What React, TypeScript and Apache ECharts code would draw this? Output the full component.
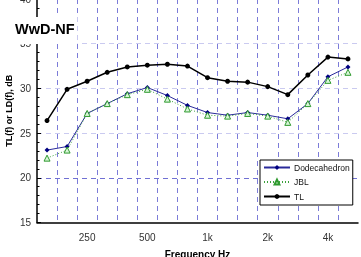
import React, { useEffect, useRef } from "react";
import * as echarts from "echarts";

const categories = ["160", "200", "250", "315", "400", "500", "630", "800", "1000", "1250", "1600", "2000", "2500", "3150", "4000", "5000"];
const labeledCategories = ["250", "500", "1000", "2000", "4000"];
const tickLabels = ["250", "500", "1k", "2k", "4k"];

const dodecahedron = [23.1, 23.5, 27.2, 28.3, 29.4, 30.1, 29.2, 28.1, 27.3, 27.0, 27.3, 27.0, 26.6, 28.3, 31.3, 32.4];
const jbl = [22.2, 23.1, 27.2, 28.3, 29.3, 29.9, 28.8, 27.7, 27.0, 26.9, 27.2, 26.9, 26.2, 28.3, 30.9, 31.8];
const tl = [26.4, 29.9, 30.8, 31.8, 32.4, 32.6, 32.7, 32.5, 31.2, 30.8, 30.7, 30.2, 29.3, 31.5, 33.5, 33.3];

const FONT = "'Liberation Sans', Arial, Helvetica, sans-serif";

export default function App() {
  const ref = useRef<HTMLDivElement>(null);
  useEffect(() => {
    if (!ref.current) return;
    const chart = echarts.init(ref.current, null, { renderer: "svg" });
    chart.setOption({
      animation: false,
      textStyle: { fontFamily: FONT },
      title: {
        text: "WwD-NF",
        left: 12,
        top: 17,
        padding: [4, 3, 8, 3],
        backgroundColor: "#ffffff",
        textStyle: { fontSize: 14.5, fontWeight: "bold", color: "#000", fontFamily: FONT },
      },
      grid: { left: 37, right: 3, top: -1, bottom: 34.5, containLabel: false, outerBoundsMode: "none" },
      legend: {
        orient: "vertical",
        left: 260,
        top: 160,
        padding: [3, 3, 4, 3],
        itemGap: 5.5,
        itemWidth: 26,
        itemHeight: 6,
        borderColor: "#000",
        borderWidth: 1,
        backgroundColor: "#fff",
        textStyle: { fontSize: 8.5, color: "#111", fontFamily: FONT, padding: [0, 0, 0, -1] },
        data: ["Dodecahedron", "JBL", "TL"],
      },
      xAxis: {
        type: "category",
        data: categories,
        boundaryGap: true,
        name: "Frequency Hz",
        nameLocation: "middle",
        nameGap: 27,
        nameMoveOverlap: false,
        nameTextStyle: { fontSize: 10, fontWeight: "bold", color: "#000", verticalAlign: "top" },
        axisLine: { lineStyle: { color: "#000", width: 1.5 } },
        axisTick: { show: false },
        axisLabel: {
          interval: 0,
          fontSize: 10,
          color: "#333",
          margin: 10,
          formatter: (v: string) => {
            const i = labeledCategories.indexOf(v);
            return i >= 0 ? tickLabels[i] : "";
          },
        },
        splitLine: {
          show: true,
          interval: 0,
          showMinLine: false,
          showMaxLine: false,
          lineStyle: { color: "#7c7cd8", width: 1, type: [5, 4] },
        },
      },
      yAxis: {
        type: "value",
        min: 15,
        max: 40,
        interval: 5,
        name: "TL(f) or LD(f), dB",
        nameLocation: "middle",
        nameGap: 24,
        nameMoveOverlap: false,
        nameRotate: 90,
        nameTextStyle: { fontSize: 9, fontWeight: "bold", color: "#000" },
        axisLine: { show: true, lineStyle: { color: "#000", width: 1.5 } },
        axisTick: { show: true, inside: true, length: 4, lineStyle: { color: "#000" } },
        minorTick: { show: true, splitNumber: 5, length: 2.5, lineStyle: { color: "#000" } },
        axisLabel: { fontSize: 10, color: "#333", margin: 6 },
        splitLine: {
          show: true,
          showMinLine: false,
          showMaxLine: false,
          lineStyle: { color: ["#7070d4", "#cacaf0", "#cacaf0", "#cacaf0"], width: 1, type: [5, 4] },
        },
      },
      series: [
        {
          name: "Dodecahedron",
          type: "line",
          data: dodecahedron,
          symbol: "diamond",
          symbolSize: 5,
          lineStyle: { color: "#2a2a9a", width: 1 },
          itemStyle: { color: "#000080" },
          z: 2,
        },
        {
          name: "JBL",
          type: "line",
          data: jbl,
          symbol: "triangle",
          symbolSize: 6,
          lineStyle: { color: "#3aa03a", width: 1, type: [1, 2] },
          itemStyle: { color: "#d8f5d8", borderColor: "#2f9a2f", borderWidth: 1 },
          z: 3,
        },
        {
          name: "TL",
          type: "line",
          data: tl,
          symbol: "circle",
          symbolSize: 5,
          lineStyle: { color: "#000", width: 1.5 },
          itemStyle: { color: "#000" },
          z: 4,
        },
      ],
    });
    return () => chart.dispose();
  }, []);
  return <div ref={ref} style={{ position: "fixed", left: 0, top: 0, width: 361, height: 257 }} />;
}
